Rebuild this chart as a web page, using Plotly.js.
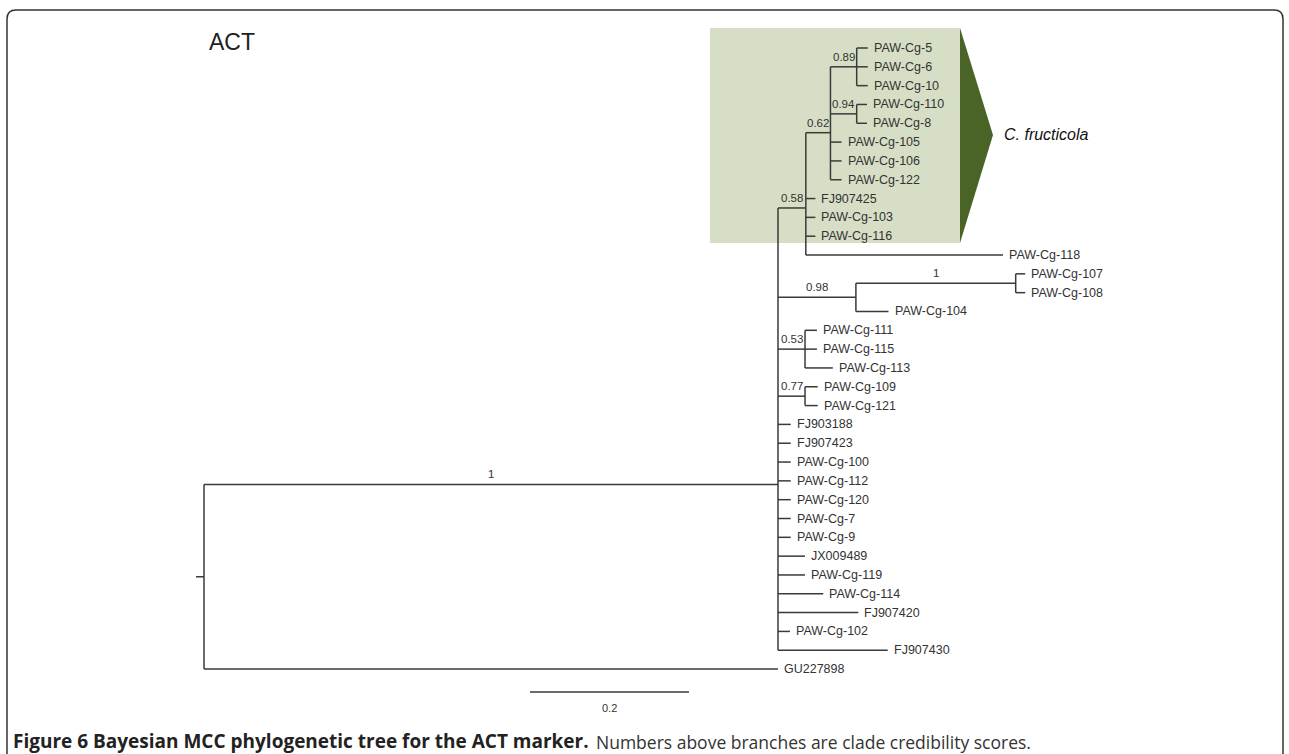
<!DOCTYPE html>
<html><head><meta charset="utf-8">
<script src="https://cdn.plot.ly/plotly-3.0.1.min.js"></script>
<style>html,body{margin:0;padding:0;background:#fff;overflow:hidden}#chart{width:1289px;height:754px}</style>
</head><body><div id="chart"></div>
<script>
// ---------------- data ----------------
const nodeNames = ["root","ingroup","n058","n062","n089","PAW-Cg-5","PAW-Cg-6","PAW-Cg-10","n094","PAW-Cg-110","PAW-Cg-8","PAW-Cg-105","PAW-Cg-106","PAW-Cg-122","FJ907425","PAW-Cg-103","PAW-Cg-116","PAW-Cg-118","n098","n1","PAW-Cg-107","PAW-Cg-108","PAW-Cg-104","n053","PAW-Cg-111","PAW-Cg-115","PAW-Cg-113","n077","PAW-Cg-109","PAW-Cg-121","FJ903188","FJ907423","PAW-Cg-100","PAW-Cg-112","PAW-Cg-120","PAW-Cg-7","PAW-Cg-9","JX009489","PAW-Cg-119","PAW-Cg-114","FJ907420","PAW-Cg-102","FJ907430","GU227898"];
const nodeParents = ["","root","ingroup","n058","n062","n089","n089","n089","n062","n094","n094","n062","n062","n062","n058","n058","n058","n058","ingroup","n098","n1","n1","n098","ingroup","n053","n053","n053","ingroup","n077","n077","ingroup","ingroup","ingroup","ingroup","ingroup","ingroup","ingroup","ingroup","ingroup","ingroup","ingroup","ingroup","ingroup","root"];
const branchLengths = [0.010,0.722,0.035,0.031,0.033,0.014,0.014,0.014,0.033,0.013,0.013,0.014,0.014,0.014,0.012,0.012,0.012,0.248,0.098,0.201,0.012,0.012,0.041,0.034,0.015,0.015,0.035,0.034,0.016,0.016,0.016,0.016,0.016,0.016,0.016,0.016,0.016,0.034,0.034,0.057,0.101,0.015,0.138,0.722];
const nodeSupports = ["","1","0.58","0.62","0.89","","","","0.94","","","","","","","","","","0.98","1","","","","0.53","","","","0.77","","","","","","","","","","","","","","","",""];
const scaleBarLength = 0.2;
const scaleBarLabel = "0.2";
const treeTitle = "ACT";
const cladeName = "C. fructicola";
const captionBold = "Figure 6 Bayesian MCC phylogenetic tree for the ACT marker.";
const captionRest = "Numbers above branches are clade credibility scores.";

// ---------------- layout constants ----------------
const W = 1289, H = 754;
const PX_PER_UNIT = 795, ROOT_PX = 204, ROW0 = 48, ROW_H = 18.82;
const LINE = "#3a3a3a";
const FONT = "Liberation Sans, Arial, sans-serif";
const px = x => x / W;
const py = y => 1 - y / H;

// ---------------- tree layout ----------------
const idx = {}; nodeNames.forEach((n, i) => idx[n] = i);
const children = nodeNames.map(() => []);
nodeParents.forEach((p, i) => { if (p !== "") children[idx[p]].push(i); });
const nx = new Array(nodeNames.length), ny = new Array(nodeNames.length);
let leafCounter = 0;
function place(i, x) {
  nx[i] = x;
  if (children[i].length === 0) { ny[i] = leafCounter++; return; }
  children[i].forEach(c => place(c, x + branchLengths[c]));
  ny[i] = children[i].reduce((s, c) => s + ny[c], 0) / children[i].length;
}
const rootIdx = nodeParents.indexOf("");
place(rootIdx, 0);

const lx = [], ly = [];
nodeNames.forEach((n, i) => {
  const x0 = nodeParents[i] === "" ? nx[i] - branchLengths[i] : nx[idx[nodeParents[i]]];
  lx.push(x0, nx[i], null); ly.push(ny[i], ny[i], null);
  if (children[i].length) {
    const ys = children[i].map(c => ny[c]);
    lx.push(nx[i], nx[i], null); ly.push(Math.min(...ys), Math.max(...ys), null);
  }
});

const annotations = [];
nodeNames.forEach((n, i) => {
  if (children[i].length === 0) {
    annotations.push({x: nx[i], y: ny[i], xref: "x", yref: "y", text: n, showarrow: false,
      xanchor: "left", yanchor: "middle", xshift: 4, font: {family: FONT, size: 12.5, color: "#333"}});
  }
  if (nodeSupports[i] !== "") {
    const x0 = nx[idx[nodeParents[i]]];
    annotations.push({x: (x0 + nx[i]) / 2, y: ny[i], xref: "x", yref: "y", text: nodeSupports[i], showarrow: false,
      xanchor: "center", yanchor: "middle", yshift: 10, font: {family: FONT, size: 11.5, color: "#333"}});
  }
});

// scale bar
const sbX0 = (530 - ROOT_PX) / PX_PER_UNIT;
const sbY = (692 - ROW0) / ROW_H;
annotations.push({x: sbX0 + scaleBarLength / 2, y: sbY, xref: "x", yref: "y", text: scaleBarLabel, showarrow: false,
  xanchor: "center", yanchor: "middle", yshift: -16, font: {family: FONT, size: 11, color: "#333"}});

// title, clade label, caption
annotations.push({x: px(207), y: py(42), xref: "paper", yref: "paper", text: treeTitle, showarrow: false,
  xanchor: "left", yanchor: "middle", font: {family: FONT, size: 23, color: "#222"}});
annotations.push({x: px(1002), y: py(135), xref: "paper", yref: "paper", text: "<i>" + cladeName + "</i>", showarrow: false,
  xanchor: "left", yanchor: "middle", font: {family: FONT, size: 16, color: "#111"}});
annotations.push({x: px(11), y: py(741), xref: "paper", yref: "paper", text: "<b>" + captionBold + "</b>", showarrow: false,
  xanchor: "left", yanchor: "middle", font: {family: "Open Sans, sans-serif", size: 19, color: "#222"}});
annotations.push({x: px(594), y: py(741.5), xref: "paper", yref: "paper", text: captionRest, showarrow: false,
  xanchor: "left", yanchor: "middle", font: {family: "Open Sans, sans-serif", size: 17.5, color: "#333"}});

// shapes
const r = 9, L = 7, T = 10, R = 1283, B = 800;
const shapes = [
  {type: "rect", xref: "paper", yref: "paper", x0: px(710), x1: px(960), y0: py(243), y1: py(28),
    fillcolor: "#d6dfc5", line: {width: 0}, layer: "below"},
  {type: "path", xref: "paper", yref: "paper", path: "M " + px(960) + "," + py(28) + " L " + px(993) + "," + py(135) + " L " + px(960) + "," + py(243) + " Z",
    fillcolor: "#4a6428", line: {width: 0}, layer: "below"},
  {type: "path", xref: "paper", yref: "paper",
    path: "M " + px(L) + "," + py(B) + " L " + px(L) + "," + py(T + r) + " Q " + px(L) + "," + py(T) + " " + px(L + r) + "," + py(T) +
      " L " + px(R - r) + "," + py(T) + " Q " + px(R) + "," + py(T) + " " + px(R) + "," + py(T + r) + " L " + px(R) + "," + py(B),
    line: {color: "#333", width: 1.5}, layer: "above"}
];

const traces = [
  {x: lx, y: ly, mode: "lines", type: "scatter", line: {color: LINE, width: 1.5}, hoverinfo: "skip", showlegend: false},
  {x: [sbX0, sbX0 + scaleBarLength], y: [sbY, sbY], mode: "lines", type: "scatter", line: {color: LINE, width: 1.5}, hoverinfo: "skip", showlegend: false}
];

const layout = {
  width: W, height: H, margin: {l: 0, r: 0, t: 0, b: 0},
  paper_bgcolor: "#fff", plot_bgcolor: "rgba(0,0,0,0)", showlegend: false,
  xaxis: {range: [-ROOT_PX / PX_PER_UNIT, (W - ROOT_PX) / PX_PER_UNIT], visible: false, fixedrange: true},
  yaxis: {range: [(H - ROW0) / ROW_H, -ROW0 / ROW_H], visible: false, fixedrange: true},
  annotations: annotations, shapes: shapes
};
Plotly.newPlot("chart", traces, layout, {displayModeBar: false, staticPlot: true});
</script></body></html>
